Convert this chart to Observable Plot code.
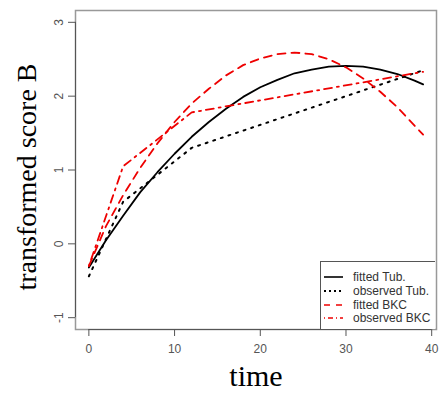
<!DOCTYPE html>
<html>
<head>
<meta charset="utf-8">
<script src="https://cdn.jsdelivr.net/npm/d3@7"></script>
<script src="https://cdn.jsdelivr.net/npm/@observablehq/plot@0.6"></script>
<style>
  html, body { margin: 0; padding: 0; background: #fff; }
  #wrap { position: relative; width: 440px; height: 394px; }
  #legend { position: absolute; left: 320px; top: 261px; width: 114px; height: 67px;
            border: 1px solid #555; border-right: none; border-bottom: none; background: #fff;
            font-family: "Liberation Sans", Arial, sans-serif; font-size: 12px; color: #333; }
</style>
</head>
<body>
<div id="wrap"></div>
<script>
// ---- data ----
const fitTime = [0, 2, 4, 6, 8, 10, 12, 14, 16, 18, 20, 22, 24, 26, 28, 30, 32, 34, 36, 38, 39];
const fittedTub = [-0.32, 0.05, 0.38, 0.70, 0.97, 1.22, 1.45, 1.65, 1.83, 1.99, 2.12, 2.22, 2.31, 2.36, 2.40, 2.41, 2.40, 2.36, 2.30, 2.21, 2.16];
const fittedBKC = [-0.30, 0.24, 0.66, 1.03, 1.36, 1.65, 1.90, 2.10, 2.28, 2.42, 2.51, 2.57, 2.59, 2.57, 2.50, 2.39, 2.24, 2.06, 1.85, 1.60, 1.48];
const obsTime = [0, 4, 12, 39];
const observedTub = [-0.44, 0.57, 1.30, 2.35];
const observedBKC = [-0.30, 1.05, 1.78, 2.33];
const xTicks = [0, 10, 20, 30, 40];
const yTicks = [-1, 0, 1, 2, 3];
const seriesNames = ["fitted Tub.", "observed Tub.", "fitted BKC", "observed BKC"];

// ---- tables ----
const mk = (t, v) => t.map((x, i) => ({x, y: v[i]}));
const fTub = mk(fitTime, fittedTub);
const fBkc = mk(fitTime, fittedBKC);
const oTub = mk(obsTime, observedTub);
const oBkc = mk(obsTime, observedBKC);

const styles = [
  {stroke: "#000", strokeWidth: 1.8},
  {stroke: "#000", strokeWidth: 2, strokeDasharray: "2,6"},
  {stroke: "#e00", strokeWidth: 1.8, strokeDasharray: "8,6"},
  {stroke: "#e00", strokeWidth: 1.8, strokeDasharray: "2,5,8,5"}
];

const xPad = (39 - 0) * 0.04, yPad = (yTicks[4] - yTicks[0]) * 0.04;
const serif = "Liberation Serif, Times New Roman, serif";
const sans = "Liberation Sans, Arial, sans-serif";

const chart = Plot.plot({
  width: 440, height: 394,
  marginLeft: 75, marginTop: 10, marginRight: 4, marginBottom: 65,
  style: {fontFamily: sans, background: "#fff"},
  x: {domain: [0 - xPad, 39 + xPad]},
  y: {domain: [yTicks[0] - yPad, yTicks[4] + yPad]},
  marks: [
    Plot.frame({stroke: "#999", strokeWidth: 1.5}),
    Plot.ruleX([0 - xPad], {y1: yTicks[0], y2: yTicks[4], stroke: "#555", strokeWidth: 1}),
    Plot.ruleY([yTicks[0] - yPad], {x1: xTicks[0], x2: xTicks[4], stroke: "#555", strokeWidth: 1}),
    Plot.axisX({ticks: xTicks, tickFormat: d => String(d), tickSize: 7, tickPadding: 8, fontSize: 12, fill: "#555", stroke: "#555", label: null}),
    Plot.axisY({ticks: yTicks, tickFormat: d => String(d), tickSize: 7, tickPadding: 6, tickRotate: -90, fontSize: 12, fill: "#555", stroke: "#555", label: null}),
    Plot.line(fTub, {x: "x", y: "y", ...styles[0]}),
    Plot.line(oTub, {x: "x", y: "y", ...styles[1]}),
    Plot.line(fBkc, {x: "x", y: "y", ...styles[2]}),
    Plot.line(oBkc, {x: "x", y: "y", ...styles[3]}),
    Plot.text(["time"], {frameAnchor: "bottom", dy: 56, fontSize: 30, fontFamily: serif, fill: "#000"}),
    Plot.text(["transformed score B"], {frameAnchor: "left", textAnchor: "middle", rotate: -90, dx: -48, dy: 7, fontSize: 28, fontFamily: serif, fill: "#000"})
  ]
});

const wrap = document.getElementById("wrap");
wrap.appendChild(chart);

// legend
const leg = document.createElement("div");
leg.id = "legend";
const rowsY = [15, 29, 43, 56];
const sampleDash = ["", "2,3", "6,6", "1,3,5,3"];
let svg = `<svg width="114" height="67" style="position:absolute;left:0;top:0">`;
seriesNames.forEach((name, i) => {
  const s = styles[i];
  svg += `<line x1="3" x2="22" y1="${rowsY[i]}" y2="${rowsY[i]}" stroke="${s.stroke}" stroke-width="${i===1?1.8:1.6}" ${sampleDash[i] ? `stroke-dasharray="${sampleDash[i]}"` : ""}/>`;
  svg += `<text x="32" y="${rowsY[i] + 4}" font-size="12" fill="#333" font-family="${sans}">${name}</text>`;
});
svg += `</svg>`;
leg.innerHTML = svg;
wrap.appendChild(leg);
</script>
</body>
</html>
